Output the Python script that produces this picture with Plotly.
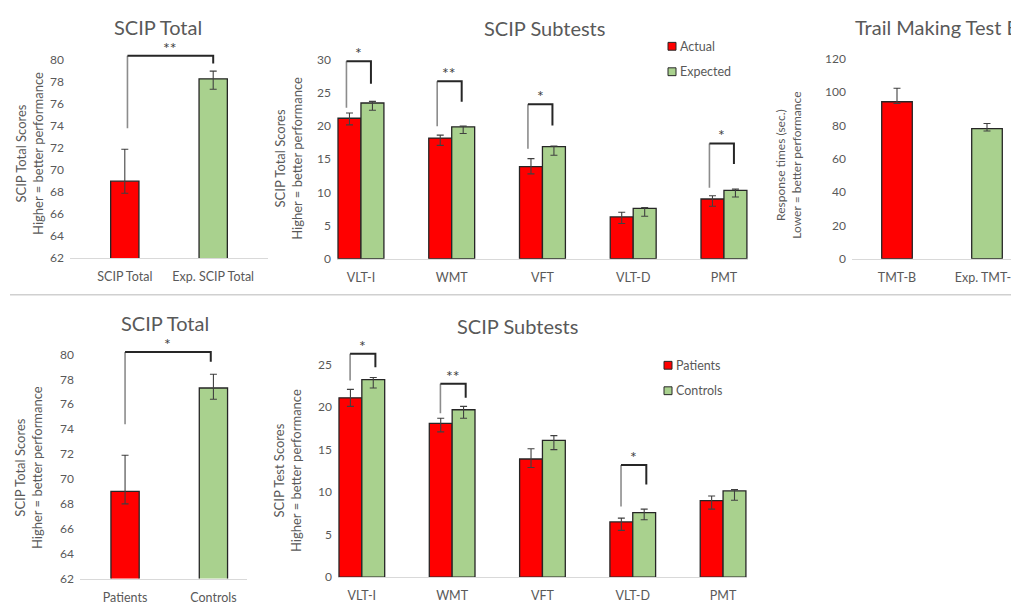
import plotly.graph_objects as go

W, H = 1019, 605
OFF = 8  # default page body margin

# ---------------- data ----------------
top_total_cats = ["SCIP Total", "Exp. SCIP Total"]
top_total_vals = [69.0, 78.3]
top_total_err_up = [2.9, 0.7]
top_total_err_dn = [1.1, 0.95]

sub_cats = ["VLT-I", "WMT", "VFT", "VLT-D", "PMT"]
actual_vals = [21.2, 18.2, 13.9, 6.3, 9.0]
actual_err_up = [0.8, 0.45, 1.2, 0.7, 0.5]
actual_err_dn = [1.0, 1.1, 1.1, 1.0, 1.1]
expected_vals = [23.5, 19.9, 16.9, 7.6, 10.3]
expected_err_up = [0.25, 0.1, 0.1, 0.1, 0.2]
expected_err_dn = [1.1, 1.0, 1.3, 1.2, 1.0]

tmt_cats = ["TMT-B", "Exp. TMT-B"]
tmt_vals = [94.3, 78.1]
tmt_err_up = [8.1, 3.1]
tmt_err_dn = [1.0, 1.4]

bot_total_cats = ["Patients", "Controls"]
bot_total_vals = [69.0, 77.3]
bot_total_err_up = [2.9, 1.1]
bot_total_err_dn = [1.0, 0.9]

patients_vals = [21.1, 18.1, 13.9, 6.5, 9.0]
patients_err_up = [1.0, 0.6, 1.2, 0.45, 0.55]
patients_err_dn = [1.0, 1.0, 1.0, 1.0, 1.0]
controls_vals = [23.25, 19.7, 16.1, 7.6, 10.15]
controls_err_up = [0.25, 0.4, 0.55, 0.4, 0.15]
controls_err_dn = [1.0, 1.0, 1.1, 0.85, 1.1]

top_legend = ["Actual", "Expected"]
bot_legend = ["Patients", "Controls"]

# significance brackets: (category index, left leg bottom, top, right leg bottom, label)
top_total_bracket = [(0, 73.8, 80.4, 79.7, "**")]
top_sub_brackets = [
    (0, 22.8, 29.8, 26.4, "*"),
    (1, 20.0, 26.8, 23.7, "**"),
    (2, 16.6, 23.3, 20.1, "*"),
    (4, 10.7, 17.4, 14.3, "*"),
]
bot_total_bracket = [(0, 74.4, 80.2, 79.4, "*")]
bot_sub_brackets = [
    (0, 23.15, 26.3, 24.7, "*"),
    (1, 19.3, 22.76, 21.1, "**"),
    (3, 8.3, 13.2, 10.9, "*"),
]

# ---------------- style ----------------
RED = "#FF0000"
GREEN = "#A9D18E"
OUTLINE = "#262626"
TXT = "#595959"
FONT = "Lato"
ERRC = "#404040"


def px_x(p):
    return (p - OFF) / W


def px_y(p):
    return 1 - (p - OFF) / H


def err(up, dn):
    return dict(type="data", symmetric=False, array=up, arrayminus=dn,
                color=ERRC, thickness=1.1, width=3.5)


fig = go.Figure()

# Panel 1: SCIP Total (top)
fig.add_trace(go.Bar(x=top_total_cats, y=top_total_vals, width=0.32,
                     marker=dict(color=[RED, GREEN], line=dict(color=OUTLINE, width=1.3)),
                     error_y=err(top_total_err_up, top_total_err_dn),
                     showlegend=False, xaxis="x", yaxis="y"))

# Panel 2: SCIP Subtests (top)
bw = 0.253
fig.add_trace(go.Bar(x=sub_cats, y=actual_vals, width=bw, offset=-bw, name=top_legend[0],
                     marker=dict(color=RED, line=dict(color=OUTLINE, width=1.3)),
                     error_y=err(actual_err_up, actual_err_dn),
                     showlegend=False, xaxis="x2", yaxis="y2"))
fig.add_trace(go.Bar(x=sub_cats, y=expected_vals, width=bw, offset=0, name=top_legend[1],
                     marker=dict(color=GREEN, line=dict(color=OUTLINE, width=1.3)),
                     error_y=err(expected_err_up, expected_err_dn),
                     showlegend=False, xaxis="x2", yaxis="y2"))

# Panel 3: TMT-B
fig.add_trace(go.Bar(x=tmt_cats, y=tmt_vals, width=0.34,
                     marker=dict(color=[RED, GREEN], line=dict(color=OUTLINE, width=1.3)),
                     error_y=err(tmt_err_up, tmt_err_dn),
                     showlegend=False, xaxis="x3", yaxis="y3"))

# Panel 4: SCIP Total (bottom)
fig.add_trace(go.Bar(x=bot_total_cats, y=bot_total_vals, width=0.32,
                     marker=dict(color=[RED, GREEN], line=dict(color=OUTLINE, width=1.3)),
                     error_y=err(bot_total_err_up, bot_total_err_dn),
                     showlegend=False, xaxis="x4", yaxis="y4"))

# Panel 5: SCIP Subtests (bottom)
fig.add_trace(go.Bar(x=sub_cats, y=patients_vals, width=bw, offset=-bw, name=bot_legend[0],
                     marker=dict(color=RED, line=dict(color=OUTLINE, width=1.3)),
                     error_y=err(patients_err_up, patients_err_dn),
                     showlegend=False, xaxis="x5", yaxis="y5"))
fig.add_trace(go.Bar(x=sub_cats, y=controls_vals, width=bw, offset=0, name=bot_legend[1],
                     marker=dict(color=GREEN, line=dict(color=OUTLINE, width=1.3)),
                     error_y=err(controls_err_up, controls_err_dn),
                     showlegend=False, xaxis="x5", yaxis="y5"))

shapes = []
annotations = []


def add_brackets(brs, xr, yr, dl, dr):
    for (i, yl, yt, yrr, lab) in brs:
        xl, xrt = i + dl, i + dr
        shapes.append(dict(type="line", xref=xr, yref=yr, x0=xl, x1=xl, y0=yl, y1=yt,
                           line=dict(color="#8c8c8c", width=1.6)))
        shapes.append(dict(type="path", xref=xr, yref=yr,
                           path=f"M {xl},{yt} L {xrt},{yt} L {xrt},{yrr}",
                           line=dict(color=OUTLINE, width=2)))
        annotations.append(dict(xref=xr, yref=yr, x=(xl + xrt) / 2, y=yt, text=lab,
                                showarrow=False, yanchor="bottom", yshift=-3,
                                font=dict(family=FONT, size=16, color="#404040")))


add_brackets(top_total_bracket, "x", "y", 0.03, 1.0)
add_brackets(top_sub_brackets, "x2", "y2", -0.16, 0.11)
add_brackets(bot_total_bracket, "x4", "y4", 0.0, 0.97)
add_brackets(bot_sub_brackets, "x5", "y5", -0.13, 0.15)

# separator line
shapes.append(dict(type="line", xref="paper", yref="paper", x0=px_x(10), x1=1.0,
                   y0=px_y(295), y1=px_y(295), line=dict(color="#d0d0d0", width=1.5)))


# manual legends
def legend(names, colors, x, ys):
    for n, c, y in zip(names, colors, ys):
        shapes.append(dict(type="rect", xref="paper", yref="paper",
                           x0=px_x(x - 4), x1=px_x(x + 4), y0=px_y(y + 4), y1=px_y(y - 4),
                           fillcolor=c, line=dict(color=OUTLINE, width=1)))
        annotations.append(dict(xref="paper", yref="paper", x=px_x(x + 6), y=px_y(y),
                                text=n, showarrow=False, xanchor="left", yanchor="middle",
                                font=dict(family=FONT, size=12.5, color=TXT)))


legend(top_legend, [RED, GREEN], 672, [41, 67])
legend(bot_legend, [RED, GREEN], 668, [367, 393])


# titles
def title(text, x, y, anchor="center"):
    annotations.append(dict(xref="paper", yref="paper", x=px_x(x), y=px_y(y), text=text,
                            showarrow=False, xanchor=anchor, yanchor="middle",
                            font=dict(family=FONT, size=20, color=TXT)))


title("SCIP Total", 158, 21)
title("SCIP Subtests", 544, 22)
title("Trail Making Test B", 853, 21, "left")
title("SCIP Total", 165, 324)
title("SCIP Subtests", 518, 327)


def ytitle(text, x, y, size=13):
    annotations.append(dict(xref="paper", yref="paper", x=px_x(x), y=px_y(y), text=text,
                            showarrow=False, textangle=-90, xanchor="center", yanchor="middle",
                            font=dict(family=FONT, size=size, color=TXT)))


ytitle("SCIP Total Scores<br>Higher = better performance", 30, 151)
ytitle("SCIP Total Scores<br>Higher = better performance", 289, 156)
ytitle("Response times (sec.)<br>Lower = better performance", 789, 163, 12)
ytitle("SCIP Total Scores<br>Higher = better performance", 28, 472)
ytitle("SCIP Test Scores<br>Higher = better performance", 288, 475)


def xax(d0, d1, rng, anchor):
    return dict(domain=[max(0, px_x(d0)), min(1, px_x(d1))], range=rng, anchor=anchor,
                showline=True, linecolor="#d9d9d9", linewidth=1.2, showgrid=False,
                ticks="", zeroline=False, fixedrange=True, ticklabelstandoff=7,
                tickfont=dict(family=FONT, size=12.5, color=TXT))


def yax(top, bot, rng, tickvals, anchor):
    return dict(domain=[px_y(bot), px_y(top)], range=rng, anchor=anchor,
                showline=False, showgrid=False, zeroline=False, ticks="",
                tickvals=tickvals, fixedrange=True, ticklabelstandoff=5,
                tickfont=dict(family=FONT, size=12, color=TXT))


# panel-3 axis runs past the right edge of the page
tmt_left, tmt_step, tmt_c0 = 852, 90.0, 897
tmt_right = W + OFF
fig.update_layout(
    width=W, height=H,
    margin=dict(l=0, r=0, t=0, b=0),
    paper_bgcolor="white", plot_bgcolor="white",
    barmode="overlay",
    font=dict(family=FONT, color=TXT),
    xaxis=xax(70, 268, [-0.62, 1.62], "y"),
    yaxis=yax(43.9, 257.5, [62, 81], list(range(62, 81, 2)), "x"),
    xaxis2=xax(337, 748, [-0.264, 4.265], "y2"),
    yaxis2=yax(53.6, 258, [0, 30.2], list(range(0, 31, 5)), "x2"),
    xaxis3=xax(tmt_left, tmt_right,
               [(tmt_left - tmt_c0) / tmt_step, (tmt_right - tmt_c0) / tmt_step], "y3"),
    yaxis3=yax(52.3, 258, [0, 121], list(range(0, 121, 20)), "x3"),
    xaxis4=xax(80, 247, [-0.51, 1.38], "y4"),
    yaxis4=yax(349.5, 585, [62, 80.5], list(range(62, 81, 2)), "x4"),
    xaxis5=xax(338, 747, [-0.264, 4.265], "y5"),
    yaxis5=yax(352.5, 583.5, [0, 26.6], list(range(0, 26, 5)), "x5"),
    shapes=shapes,
    annotations=annotations,
)

fig.write_html("out.html")
